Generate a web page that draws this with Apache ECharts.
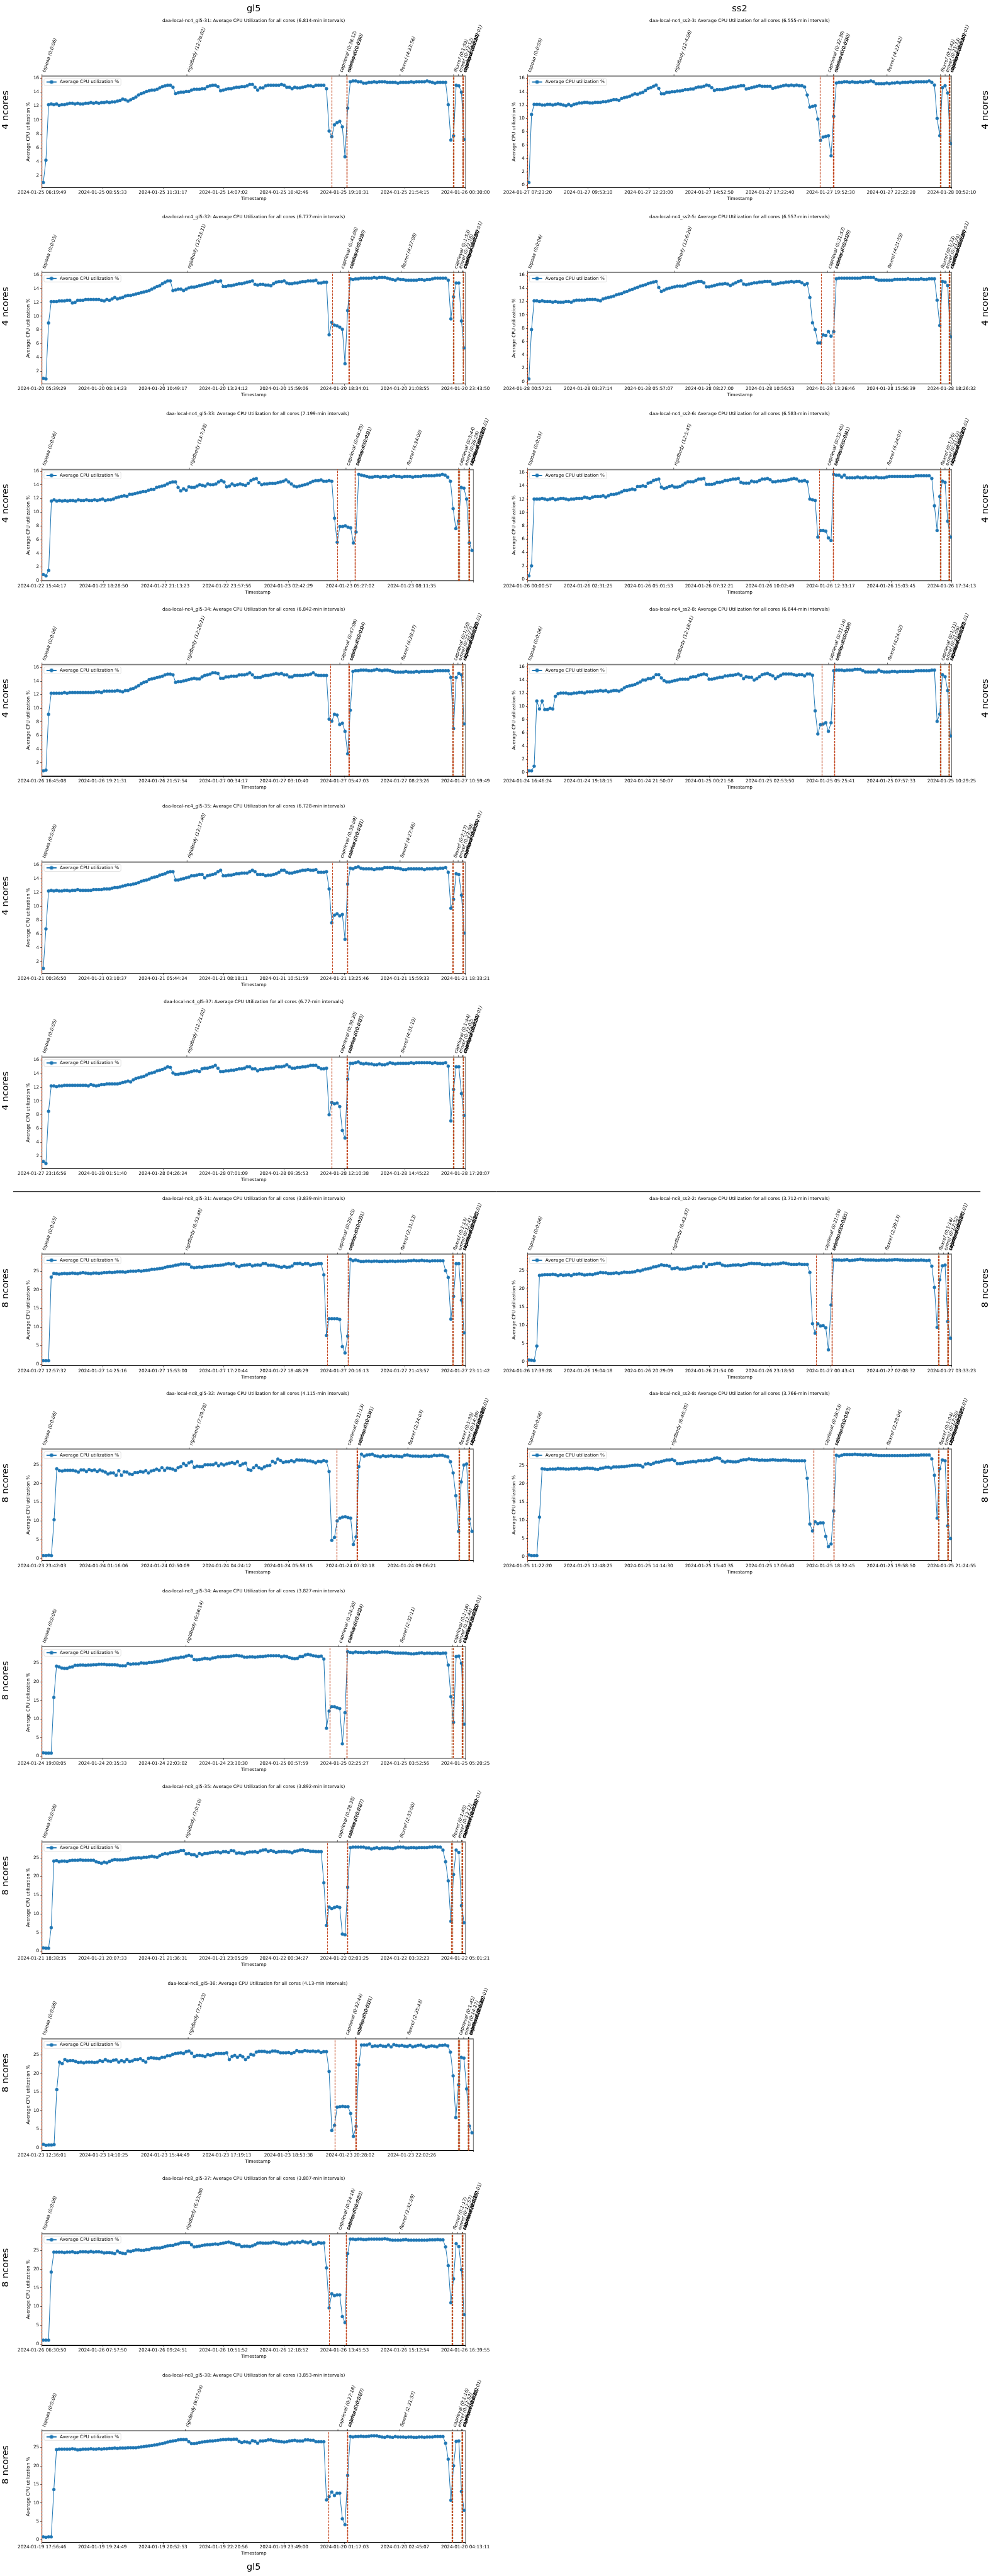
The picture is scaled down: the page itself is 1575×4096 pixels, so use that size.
<!DOCTYPE html>
<html><head><meta charset="utf-8">
<script src="https://cdn.jsdelivr.net/npm/echarts@6/dist/echarts.min.js"></script>
<style>html,body{margin:0;padding:0;background:#fff}#c{width:1575px;height:4096px}</style>
</head><body><div id="c"></div>
<script>
// ---------------- DATA ----------------
const PHASE_NAMES = ['topoaa','rigidbody','caprieval','seletop','caprieval','flexref','caprieval','emref','caprieval','clustfcc','seletopclusts','caprieval'];

// gl5, 4 ncores
const ticks_nc4_gl5_31 = ['2024-01-25 06:19:49','2024-01-25 08:55:33','2024-01-25 11:31:17','2024-01-25 14:07:02','2024-01-25 16:42:46','2024-01-25 19:18:31','2024-01-25 21:54:15','2024-01-26 00:30:00'];
const dur_nc4_gl5_31 = ['0:0:06','12:26:02','0:38:12','0:0:01','0:0:30','4:33:56','0:1:59','0:22:12','0:0:20','0:0:02','0:0:01','0:0:32'];
const cpu_nc4_gl5_31 = [
1.0,4.2,12.2,12.3,12.2,12.3,12.1,12.2,12.2,12.3,
12.4,12.4,12.3,12.4,12.3,12.3,12.4,12.4,12.5,12.4,
12.5,12.4,12.5,12.5,12.6,12.5,12.6,12.6,12.7,12.8,
13.0,12.9,12.7,12.9,13.1,13.3,13.6,13.8,13.9,14.1,
14.2,14.3,14.3,14.4,14.6,14.8,14.9,15.0,15.0,14.7,
13.8,13.9,14.0,14.0,14.1,14.1,14.3,14.4,14.4,14.4,
14.5,14.5,14.8,14.9,15.0,15.0,14.8,14.2,14.3,14.4,
14.5,14.5,14.6,14.7,14.7,14.8,14.8,14.9,15.1,15.1,
14.7,14.3,14.6,14.6,14.9,15.0,15.0,15.0,15.0,15.0,
15.1,15.0,14.7,14.7,14.5,14.7,14.6,14.6,14.7,14.8,
14.9,14.9,14.8,15.0,15.0,15.0,15.0,14.5,8.4,7.6,
9.3,9.6,9.8,9.0,4.7,11.7,15.5,15.6,15.6,15.5,
15.5,15.3,15.3,15.4,15.4,15.5,15.4,15.5,15.5,15.5,
15.4,15.4,15.4,15.4,15.3,15.4,15.4,15.4,15.4,15.5,
15.4,15.5,15.5,15.5,15.5,15.6,15.5,15.4,15.3,15.4,
15.4,15.4,15.4,12.2,7.1,7.7,15.0,14.9,14.0,7.2];

const ticks_nc4_gl5_32 = ['2024-01-20 05:39:29','2024-01-20 08:14:23','2024-01-20 10:49:17','2024-01-20 13:24:12','2024-01-20 15:59:06','2024-01-20 18:34:01','2024-01-20 21:08:55','2024-01-20 23:43:50'];
const dur_nc4_gl5_32 = ['0:0:05','12:23:31','0:42:06','0:0:01','0:0:30','4:27:08','0:1:53','0:22:16','0:0:20','0:0:02','0:0:01','0:0:31'];
const cpu_nc4_gl5_32 = [
1.0,0.9,9.0,12.1,12.1,12.1,12.2,12.2,12.2,12.3,
12.3,11.9,12.0,12.3,12.3,12.3,12.4,12.4,12.4,12.4,
12.4,12.4,12.3,12.2,12.4,12.3,12.5,12.7,12.5,12.6,
12.7,12.9,13.0,13.0,13.1,13.2,13.3,13.4,13.5,13.6,
13.7,13.9,14.1,14.3,14.4,14.7,14.9,15.1,15.1,13.7,
13.8,13.9,13.9,13.7,13.9,14.1,14.2,14.2,14.3,14.4,
14.5,14.6,14.7,14.8,14.9,15.1,15.0,15.1,14.3,14.3,
14.4,14.4,14.5,14.6,14.7,14.7,14.8,14.9,15.0,15.1,
14.6,14.5,14.6,14.6,14.5,14.5,14.4,14.7,14.9,15.0,
15.0,15.1,14.8,14.7,14.7,14.8,14.8,14.9,15.0,15.0,
15.1,15.1,15.1,15.2,14.8,14.8,14.9,14.9,7.3,9.1,
8.7,8.6,8.4,8.1,3.1,10.8,15.4,15.3,15.4,15.4,
15.5,15.5,15.5,15.5,15.5,15.6,15.5,15.6,15.6,15.6,
15.5,15.4,15.3,15.2,15.4,15.3,15.3,15.2,15.2,15.2,
15.2,15.2,15.3,15.3,15.2,15.3,15.3,15.4,15.5,15.5,
15.5,15.5,15.5,15.2,9.6,12.8,14.8,14.8,9.3,5.4];

const ticks_nc4_gl5_33 = ['2024-01-22 15:44:17','2024-01-22 18:28:50','2024-01-22 21:13:23','2024-01-22 23:57:56','2024-01-23 02:42:29','2024-01-23 05:27:02','2024-01-23 08:11:35','2024-01-23 10:56:08'];
const dur_nc4_gl5_33 = ['0:0:06','13:7:28','0:48:29','0:0:01','0:0:21','4:34:00','0:3:44','0:26:26','0:0:20','0:0:02','0:0:01','0:1:12'];
const cpu_nc4_gl5_33 = [
0.9,0.7,1.5,11.6,11.8,11.6,11.7,11.6,11.7,11.6,
11.7,11.7,11.6,11.8,11.7,11.7,11.8,11.7,11.7,11.8,
11.7,11.8,11.9,11.7,11.8,11.8,11.9,12.1,12.2,12.3,
12.4,12.3,12.6,12.6,12.7,12.8,12.9,13.0,13.0,13.2,
13.3,13.3,13.6,13.7,13.8,13.9,14.1,14.3,14.4,14.4,
13.6,13.1,13.4,13.2,13.7,13.6,13.6,13.8,14.0,13.9,
13.8,14.1,14.0,14.0,14.1,14.4,14.6,14.4,13.7,13.8,
14.1,13.9,14.0,14.1,14.0,13.9,14.2,14.6,14.8,14.9,
14.3,14.0,14.1,14.1,14.2,14.2,14.2,14.3,14.4,14.5,
14.7,14.4,14.1,13.8,13.7,13.8,13.9,14.0,14.1,14.3,
14.5,14.6,14.6,14.7,14.5,14.5,14.6,14.5,9.1,5.6,
7.9,7.9,8.0,7.8,7.7,5.5,7.1,15.5,15.4,15.3,
15.2,15.1,15.1,15.2,15.2,15.1,15.2,15.2,15.1,15.2,
15.3,15.2,15.2,15.1,15.2,15.2,15.2,15.1,15.2,15.2,
15.2,15.3,15.3,15.3,15.3,15.3,15.4,15.4,15.5,15.4,
15.1,14.5,10.5,7.6,8.7,13.6,13.5,11.9,5.5,4.4];

const ticks_nc4_gl5_34 = ['2024-01-26 16:45:08','2024-01-26 19:21:31','2024-01-26 21:57:54','2024-01-27 00:34:17','2024-01-27 03:10:40','2024-01-27 05:47:03','2024-01-27 08:23:26','2024-01-27 10:59:49'];
const dur_nc4_gl5_34 = ['0:0:06','12:26:21','0:47:08','0:0:01','0:0:04','4:28:37','0:1:50','0:22:27','0:0:20','0:0:02','0:0:01','0:0:31'];
const cpu_nc4_gl5_34 = [
0.8,0.9,9.1,12.2,12.2,12.2,12.2,12.2,12.3,12.2,
12.3,12.3,12.3,12.3,12.3,12.3,12.3,12.3,12.3,12.3,
12.4,12.4,12.3,12.5,12.5,12.5,12.5,12.5,12.6,12.5,
12.4,12.6,12.6,12.8,12.9,13.1,13.3,13.6,13.8,13.9,
14.2,14.3,14.4,14.5,14.6,14.7,14.9,15.0,15.0,14.9,
13.8,13.9,13.9,14.0,14.1,14.2,14.3,14.4,14.3,14.3,
14.6,14.8,14.9,15.0,15.2,15.2,15.1,14.4,14.4,14.6,
14.6,14.7,14.7,14.7,14.9,14.9,14.9,15.0,15.2,14.9,
14.5,14.5,14.5,14.7,14.8,14.8,14.9,15.0,15.1,15.0,
15.1,14.9,14.9,14.6,14.6,14.8,14.8,14.8,14.8,14.9,
14.9,15.0,15.2,14.9,14.8,14.8,14.8,14.8,8.4,8.1,
9.1,9.0,7.6,7.8,6.6,3.3,9.7,15.4,15.5,15.5,
15.6,15.6,15.6,15.5,15.5,15.6,15.7,15.6,15.5,15.6,
15.6,15.5,15.4,15.3,15.3,15.3,15.3,15.4,15.3,15.3,
15.3,15.4,15.3,15.4,15.4,15.4,15.4,15.4,15.5,15.5,
15.5,15.5,15.5,15.5,14.5,7.0,14.5,15.1,14.9,7.7];

const ticks_nc4_gl5_35 = ['2024-01-21 00:36:50','2024-01-21 03:10:37','2024-01-21 05:44:24','2024-01-21 08:18:11','2024-01-21 10:51:59','2024-01-21 13:25:46','2024-01-21 15:59:33','2024-01-21 18:33:21'];
const dur_nc4_gl5_35 = ['0:0:06','12:17:40','0:38:09','0:0:01','0:0:31','4:27:46','0:2:17','0:22:59','0:0:20','0:0:02','0:0:01','0:0:39'];
const cpu_nc4_gl5_35 = [
1.0,6.7,12.2,12.3,12.2,12.3,12.2,12.2,12.3,12.3,
12.2,12.3,12.3,12.4,12.3,12.3,12.3,12.3,12.3,12.4,
12.4,12.4,12.4,12.5,12.5,12.5,12.6,12.7,12.7,12.8,
12.9,13.0,13.1,13.1,13.2,13.3,13.4,13.6,13.7,13.8,
13.9,14.1,14.2,14.3,14.5,14.6,14.7,14.9,15.0,15.0,
13.8,13.8,13.9,14.0,14.1,14.2,14.4,14.4,14.5,14.6,
14.6,14.1,14.4,14.5,14.6,14.7,15.0,15.2,14.4,14.4,
14.5,14.5,14.6,14.7,14.7,14.8,14.8,14.8,15.0,15.2,
15.0,14.6,14.6,14.6,14.4,14.5,14.5,14.6,14.7,14.9,
15.2,15.2,14.9,14.8,14.8,14.9,15.0,15.1,15.2,15.2,
15.3,15.2,15.2,15.3,14.9,14.9,14.9,15.0,12.5,7.6,
8.7,8.9,8.6,8.8,5.2,13.2,15.5,15.4,15.6,15.7,
15.5,15.4,15.4,15.4,15.4,15.3,15.4,15.4,15.4,15.6,
15.6,15.6,15.6,15.5,15.5,15.4,15.3,15.3,15.4,15.4,
15.4,15.4,15.4,15.4,15.3,15.4,15.4,15.4,15.5,15.4,
15.5,15.5,15.6,14.9,9.7,11.0,14.7,14.6,11.6,6.1];

const ticks_nc4_gl5_37 = ['2024-01-27 23:16:56','2024-01-28 01:51:40','2024-01-28 04:26:24','2024-01-28 07:01:09','2024-01-28 09:35:53','2024-01-28 12:10:38','2024-01-28 14:45:22','2024-01-28 17:20:07'];
const dur_nc4_gl5_37 = ['0:0:05','12:21:02','0:39:30','0:0:01','0:0:33','4:31:19','0:1:44','0:22:02','0:0:20','0:0:02','0:0:01','0:0:32'];
const cpu_nc4_gl5_37 = [
1.2,0.9,8.5,12.2,12.2,12.1,12.2,12.2,12.3,12.3,
12.3,12.3,12.3,12.3,12.3,12.3,12.3,12.2,12.4,12.3,
12.2,12.3,12.4,12.4,12.5,12.5,12.5,12.5,12.5,12.6,
12.7,12.8,12.9,12.8,13.1,13.3,13.4,13.5,13.6,13.8,
14.0,14.1,14.2,14.4,14.5,14.6,14.8,15.0,14.9,14.1,
13.9,13.9,14.0,14.0,14.1,14.2,14.3,14.4,14.4,14.3,
14.7,14.8,14.8,14.9,15.0,15.2,14.8,14.3,14.3,14.4,
14.4,14.5,14.5,14.6,14.7,14.7,14.8,15.0,15.0,14.7,
14.7,14.4,14.6,14.6,14.7,14.7,14.8,14.8,15.0,15.0,
15.0,15.1,15.3,15.0,14.8,14.8,14.9,14.9,15.0,15.0,
15.1,15.2,15.2,15.2,14.9,14.7,14.7,14.8,8.0,9.8,
9.6,9.7,9.2,5.7,4.6,13.2,15.5,15.5,15.6,15.7,
15.5,15.4,15.5,15.4,15.4,15.3,15.3,15.4,15.3,15.3,
15.4,15.6,15.5,15.4,15.5,15.5,15.5,15.5,15.5,15.6,
15.5,15.6,15.6,15.6,15.6,15.6,15.6,15.5,15.6,15.5,
15.5,15.5,15.6,15.1,7.1,11.7,15.0,15.0,11.1,7.9];

// gl5, 8 ncores
const ticks_nc8_gl5_31 = ['2024-01-27 12:57:32','2024-01-27 14:25:16','2024-01-27 15:53:00','2024-01-27 17:20:44','2024-01-27 18:48:29','2024-01-27 20:16:13','2024-01-27 21:43:57','2024-01-27 23:11:42'];
const dur_nc8_gl5_31 = ['0:0:05','6:53:48','0:29:45','0:0:01','0:0:31','2:31:13','0:1:13','0:12:41','0:0:15','0:0:02','0:0:01','0:0:26'];
const cpu_nc8_gl5_31 = [
0.9,0.9,0.9,23.4,24.4,24.3,24.2,24.3,24.4,24.3,
24.4,24.5,24.4,24.3,24.5,24.6,24.5,24.4,24.3,24.5,
24.5,24.4,24.5,24.6,24.6,24.7,24.6,24.7,24.8,24.8,
24.8,24.7,24.9,25.0,25.0,25.0,25.1,25.0,25.1,25.2,
25.3,25.5,25.5,25.6,25.7,25.8,26.0,26.2,26.3,26.4,
26.6,26.7,26.9,26.9,26.9,26.8,26.1,25.9,26.0,26.1,
26.0,26.2,26.3,26.3,26.4,26.5,26.5,26.6,26.7,26.9,
27.0,26.9,27.0,26.4,26.2,26.5,26.6,26.7,26.8,26.4,
26.6,26.7,26.6,27.0,27.0,26.6,26.6,26.6,26.4,26.2,
26.0,26.3,26.0,26.1,26.4,27.0,27.0,27.1,26.8,27.0,
27.0,26.6,26.8,26.9,27.0,27.0,24.0,7.7,12.2,12.2,
12.2,12.2,12.0,4.7,3.0,7.5,28.2,27.8,28.0,27.8,
27.6,27.6,27.7,27.7,27.6,27.7,27.7,27.6,27.6,27.7,
27.6,27.7,27.7,27.6,27.7,27.7,27.7,27.7,27.8,27.8,
27.9,27.8,27.8,27.9,27.8,27.8,27.7,27.8,27.8,27.8,
27.8,27.8,25.1,23.3,12.1,18.2,27.0,27.0,17.2,8.4];

const ticks_nc8_gl5_32 = ['2024-01-23 23:42:03','2024-01-24 01:16:06','2024-01-24 02:50:09','2024-01-24 04:24:12','2024-01-24 05:58:15','2024-01-24 07:32:18','2024-01-24 09:06:21','2024-01-24 10:40:24'];
const dur_nc8_gl5_32 = ['0:0:06','7:29:28','0:31:13','0:0:01','0:0:41','2:34:03','0:1:39','0:14:39','0:0:15','0:0:02','0:0:01','0:0:49'];
const cpu_nc8_gl5_32 = [
0.7,0.7,0.8,0.7,10.3,23.9,23.4,23.3,23.5,23.5,
23.5,23.5,23.3,23.0,23.6,23.6,23.2,23.7,23.4,23.6,
23.2,23.6,23.3,23.0,22.5,22.8,22.8,22.2,23.4,22.2,
23.1,23.0,22.5,22.4,22.9,22.9,23.2,23.0,23.4,22.8,
23.3,23.5,23.8,23.5,24.2,23.5,24.1,24.0,23.8,23.5,
24.2,24.5,25.3,24.8,25.5,25.8,24.3,24.6,24.5,24.5,
25.0,25.0,25.0,25.0,25.4,24.7,25.2,24.9,25.2,25.4,
25.6,25.3,25.8,24.8,25.2,25.4,23.7,23.5,24.2,24.8,
24.2,23.9,24.4,24.7,24.8,25.9,25.5,26.5,26.1,25.6,
25.8,25.8,26.1,25.8,26.3,26.2,26.2,26.2,26.0,26.0,
25.8,25.5,25.9,25.8,26.1,25.9,23.2,4.8,5.6,10.0,
10.7,11.0,11.1,10.9,10.7,3.7,5.7,24.5,27.8,27.3,
27.6,27.7,27.8,27.4,27.3,27.1,27.4,27.2,27.3,27.4,
27.2,27.3,27.2,27.1,27.5,27.6,27.4,27.3,27.3,27.3,
27.2,27.3,27.3,27.2,27.3,27.5,27.4,27.5,27.5,27.3,
27.1,25.8,22.8,16.7,7.2,20.4,24.9,25.2,10.5,7.2];

const ticks_nc8_gl5_34 = ['2024-01-24 19:08:05','2024-01-24 20:35:33','2024-01-24 22:03:02','2024-01-24 23:30:30','2024-01-25 00:57:59','2024-01-25 02:25:27','2024-01-25 03:52:56','2024-01-25 05:20:25'];
const dur_nc8_gl5_34 = ['0:0:06','6:56:14','0:24:30','0:0:01','0:0:24','2:32:11','0:1:18','0:12:44','0:0:15','0:0:02','0:0:01','0:0:30'];
const cpu_nc8_gl5_34 = [
0.9,0.8,0.8,0.8,15.8,24.2,24.0,23.7,23.6,23.6,
23.9,24.0,24.4,24.4,24.5,24.5,24.4,24.5,24.5,24.6,
24.6,24.7,24.7,24.7,24.6,24.6,24.6,24.6,24.5,24.3,
24.3,24.3,24.9,24.7,24.8,24.8,24.8,25.1,25.0,25.0,
25.2,25.2,25.3,25.4,25.5,25.6,25.8,25.9,26.1,26.3,
26.4,26.4,26.6,26.6,26.9,27.1,26.9,26.0,25.9,26.0,
26.1,26.3,26.2,26.1,26.4,26.5,26.7,26.7,26.8,26.8,
26.8,26.9,27.0,27.1,27.0,26.9,26.6,26.6,26.7,26.7,
26.6,26.7,26.8,26.8,26.9,27.0,27.0,27.0,27.0,27.0,
26.7,26.9,26.8,26.5,26.3,26.2,26.3,26.8,26.8,27.2,
27.4,27.2,27.0,26.9,26.8,26.9,26.1,7.5,12.1,13.3,
13.3,13.0,12.8,3.3,11.7,28.1,27.9,27.8,28.0,27.9,
27.9,27.8,27.9,28.0,27.9,27.9,27.8,27.9,28.0,28.0,
28.0,27.9,27.8,27.7,27.7,27.7,27.7,27.7,27.6,27.5,
27.5,27.6,27.7,27.8,27.6,27.7,27.7,27.6,27.7,27.7,
27.6,27.7,27.7,24.5,16.0,9.1,26.8,26.9,25.0,8.6];

const ticks_nc8_gl5_35 = ['2024-01-21 18:38:35','2024-01-21 20:07:33','2024-01-21 21:36:31','2024-01-21 23:05:29','2024-01-22 00:34:27','2024-01-22 02:03:25','2024-01-22 03:32:23','2024-01-22 05:01:21'];
const dur_nc8_gl5_35 = ['0:0:06','7:0:10','0:28:38','0:0:01','0:0:27','2:33:00','0:1:40','0:13:12','0:0:15','0:0:02','0:0:01','0:0:38'];
const cpu_nc8_gl5_35 = [
0.9,0.8,0.8,6.3,24.1,24.2,23.9,24.1,24.1,24.0,
24.2,24.3,24.3,24.3,24.4,24.3,24.3,24.3,24.3,24.3,
23.9,23.7,23.5,23.8,23.6,24.0,24.3,24.5,24.4,24.4,
24.4,24.5,24.6,24.8,24.9,24.9,25.0,24.9,25.1,25.1,
25.2,25.4,25.2,25.1,25.5,25.9,26.1,26.0,26.3,26.4,
26.5,26.6,26.9,26.9,26.0,26.1,25.8,25.8,25.4,26.1,
25.8,26.1,26.1,26.3,26.4,26.5,26.5,26.3,26.6,26.6,
26.4,26.9,26.8,26.2,26.3,26.2,26.0,26.4,26.5,26.5,
26.6,26.4,26.8,27.0,27.1,26.7,26.9,26.7,26.4,26.6,
26.6,26.7,26.6,26.5,26.3,26.7,26.8,27.0,27.1,26.9,
26.9,26.7,26.7,26.6,26.6,26.6,18.3,6.9,11.8,11.4,
11.7,11.9,11.7,4.6,4.4,17.1,27.7,27.8,27.8,27.8,
27.8,27.8,27.6,27.6,27.3,27.5,27.7,27.4,27.6,27.6,
27.6,27.5,27.4,27.6,27.8,27.8,27.8,27.6,27.6,27.7,
27.7,27.6,27.7,27.7,27.7,27.7,27.8,27.8,27.9,27.8,
27.8,27.0,23.9,18.8,8.0,20.5,27.0,26.4,12.2,7.6];

const ticks_nc8_gl5_36 = ['2024-01-23 12:36:01','2024-01-23 14:10:25','2024-01-23 15:44:49','2024-01-23 17:19:13','2024-01-23 18:53:38','2024-01-23 20:28:02','2024-01-23 22:02:26','2024-01-23 23:36:50'];
const dur_nc8_gl5_36 = ['0:0:06','7:27:53','0:32:44','0:0:01','0:0:31','2:35:43','0:1:45','0:14:27','0:0:15','0:0:02','0:0:01','0:0:49'];
const cpu_nc8_gl5_36 = [
0.9,0.6,0.7,0.7,0.8,15.6,23.0,22.6,23.7,23.3,
23.4,23.4,23.2,22.9,23.0,22.8,23.0,23.0,23.0,22.9,
23.0,23.4,23.2,23.7,23.3,23.2,23.5,23.6,23.0,23.4,
23.1,23.7,23.2,23.3,23.7,23.7,23.9,23.4,23.0,24.0,
24.2,24.1,24.0,23.9,24.3,24.3,24.7,24.7,25.1,25.3,
25.4,25.5,25.3,25.8,26.0,25.4,24.5,24.8,24.8,24.7,
24.5,25.0,24.8,25.0,25.3,25.3,25.3,25.3,25.5,23.7,
24.5,24.8,24.3,24.8,24.4,23.7,24.3,25.1,24.9,25.7,
25.9,25.9,25.9,25.7,25.7,26.0,26.0,25.8,25.5,25.5,
25.5,25.6,25.3,25.6,26.1,25.8,25.8,26.1,26.0,25.9,
26.0,25.8,26.0,25.6,25.8,25.8,20.5,4.6,6.0,10.9,
11.0,11.1,11.0,11.0,9.2,3.0,5.7,22.3,27.6,27.6,
27.6,27.9,27.2,27.4,27.3,27.5,27.3,27.2,27.6,27.1,
27.7,27.5,27.4,27.5,27.3,27.2,27.5,27.1,27.3,27.5,
27.6,27.3,27.0,27.2,27.4,27.3,27.1,27.5,27.5,27.6,
27.4,25.7,19.3,8.1,16.9,24.3,24.1,15.8,5.8,4.0];

const ticks_nc8_gl5_37 = ['2024-01-26 06:30:50','2024-01-26 07:57:50','2024-01-26 09:24:51','2024-01-26 10:51:52','2024-01-26 12:18:52','2024-01-26 13:45:53','2024-01-26 15:12:54','2024-01-26 16:39:55'];
const dur_nc8_gl5_37 = ['0:0:06','6:53:09','0:24:18','0:0:01','0:0:13','2:32:09','0:1:17','0:12:57','0:0:15','0:0:02','0:0:01','0:0:27'];
const cpu_nc8_gl5_37 = [
1.0,1.0,1.0,19.2,24.5,24.5,24.5,24.5,24.4,24.5,
24.5,24.6,24.4,24.4,24.6,24.6,24.6,24.5,24.7,24.5,
24.6,24.6,24.5,24.3,24.4,24.4,24.3,24.1,24.8,24.4,
24.2,24.1,24.8,24.7,24.9,25.1,25.1,25.0,25.0,25.2,
25.2,25.5,25.6,25.6,25.6,25.8,26.0,26.2,26.3,26.3,
26.6,26.7,27.0,27.1,27.1,27.1,26.5,25.9,26.0,26.1,
26.3,26.4,26.5,26.5,26.6,26.7,26.6,26.8,26.9,27.1,
27.2,27.0,26.8,26.5,26.5,26.0,26.1,26.1,26.0,26.2,
26.5,26.9,27.0,26.9,26.9,26.9,27.0,27.2,27.1,26.9,
26.7,26.7,26.7,27.0,27.2,27.0,27.2,27.1,27.4,27.2,
27.0,27.3,26.6,26.7,27.1,26.9,27.0,20.3,9.6,13.4,
12.9,13.1,13.1,7.3,5.7,24.1,28.0,28.0,27.9,28.0,
28.0,27.9,27.9,28.0,28.0,28.0,28.0,28.0,28.0,28.1,
28.0,27.8,27.7,27.7,27.7,27.7,27.8,27.9,27.7,27.7,
27.7,27.7,27.7,27.7,27.7,27.7,27.8,27.8,27.8,27.9,
27.8,27.8,25.9,20.9,11.0,17.4,26.8,26.0,19.8,7.8];

const ticks_nc8_gl5_38 = ['2024-01-19 17:56:46','2024-01-19 19:24:49','2024-01-19 20:52:53','2024-01-19 22:20:56','2024-01-19 23:49:00','2024-01-20 01:17:03','2024-01-20 02:45:07','2024-01-20 04:13:11'];
const dur_nc8_gl5_38 = ['0:0:06','6:57:04','0:27:18','0:0:01','0:0:27','2:31:57','0:1:16','0:12:52','0:0:15','0:0:02','0:0:01','0:0:32'];
const cpu_nc8_gl5_38 = [
0.8,0.7,0.8,0.8,13.6,24.4,24.5,24.5,24.5,24.5,
24.5,24.6,24.5,24.3,24.4,24.5,24.5,24.5,24.6,24.5,
24.5,24.6,24.5,24.6,24.6,24.7,24.7,24.8,24.7,24.8,
24.8,24.8,24.9,24.9,24.9,24.9,25.0,25.1,25.2,25.3,
25.4,25.5,25.6,25.7,25.9,26.0,26.2,26.4,26.6,26.7,
26.8,27.0,27.1,27.1,27.1,26.5,26.0,26.0,26.1,26.3,
26.4,26.5,26.6,26.7,26.7,26.8,26.9,27.0,27.1,27.1,
27.2,27.1,27.2,27.2,26.6,26.3,26.5,26.4,26.2,26.8,
26.6,26.1,26.7,26.7,26.8,27.0,27.0,26.8,26.7,26.6,
26.5,26.4,26.5,26.7,26.8,26.9,26.7,26.7,26.7,27.0,
27.0,26.9,26.9,26.5,26.5,26.5,26.5,10.8,11.7,12.9,
12.0,12.6,12.6,5.7,4.1,17.4,27.9,27.8,27.9,27.9,
28.0,27.9,27.9,28.0,28.1,28.1,28.1,27.9,27.8,27.7,
27.9,27.8,27.7,27.9,27.8,27.8,27.8,27.7,27.8,27.8,
27.7,27.7,27.8,27.8,27.7,27.8,27.8,27.8,27.9,27.9,
27.9,27.9,26.1,21.8,10.7,20.0,26.6,26.7,13.1,8.0];

// ss2, 4 ncores
const ticks_nc4_ss2_3 = ['2024-01-27 07:23:20','2024-01-27 09:53:10','2024-01-27 12:23:00','2024-01-27 14:52:50','2024-01-27 17:22:40','2024-01-27 19:52:30','2024-01-27 22:22:20','2024-01-28 00:52:10'];
const dur_nc4_ss2_3 = ['0:0:05','12:4:06','0:32:39','0:0:01','0:0:40','4:22:42','0:1:42','0:21:33','0:0:20','0:0:02','0:0:01','0:0:30'];
const cpu_nc4_ss2_3 = [
0.4,10.6,12.1,12.1,12.1,12.0,12.0,12.1,12.1,12.0,
12.1,12.2,12.1,12.0,11.9,12.1,11.9,12.1,12.2,12.3,
12.3,12.4,12.4,12.3,12.3,12.4,12.4,12.4,12.5,12.5,
12.6,12.7,12.8,12.8,12.7,13.0,13.1,13.2,13.3,13.5,
13.7,13.6,13.8,13.9,14.2,14.5,14.6,14.8,15.0,14.5,
13.7,13.7,13.9,13.9,14.0,14.0,14.1,14.1,14.2,14.3,
14.3,14.4,14.4,14.6,14.7,14.7,14.8,15.0,14.9,14.6,
14.2,14.3,14.3,14.3,14.4,14.5,14.6,14.7,14.7,14.8,
14.9,14.9,14.4,14.5,14.6,14.7,14.8,14.9,14.8,14.8,
14.8,14.8,14.5,14.6,14.7,14.8,14.9,15.0,14.9,15.0,
14.9,15.0,14.9,14.9,14.7,13.5,11.7,11.8,11.9,9.9,
6.7,7.2,7.3,7.4,4.4,10.3,15.3,15.4,15.4,15.5,
15.5,15.4,15.5,15.4,15.4,15.5,15.4,15.5,15.5,15.6,
15.5,15.2,15.2,15.2,15.2,15.3,15.2,15.3,15.3,15.4,
15.3,15.4,15.4,15.4,15.5,15.4,15.5,15.5,15.5,15.5,
15.5,15.6,15.4,15.0,10.0,7.4,14.6,14.9,13.8,6.2];

const ticks_nc4_ss2_5 = ['2024-01-28 00:57:21','2024-01-28 03:27:14','2024-01-28 05:57:07','2024-01-28 08:27:00','2024-01-28 10:56:53','2024-01-28 13:26:46','2024-01-28 15:56:39','2024-01-28 18:26:32'];
const dur_nc4_ss2_5 = ['0:0:06','12:6:20','0:31:57','0:0:01','0:0:29','4:21:59','0:1:33','0:21:24','0:0:20','0:0:02','0:0:01','0:0:29'];
const cpu_nc4_ss2_5 = [
0.4,7.8,12.1,12.1,12.0,12.1,12.0,12.0,12.0,11.9,
12.0,11.9,11.9,11.9,12.0,12.0,11.9,12.1,12.2,12.2,
12.2,12.2,12.3,12.3,12.3,12.3,12.2,12.1,12.4,12.5,
12.6,12.7,12.8,13.0,13.1,13.2,13.4,13.5,13.7,13.8,
14.0,14.1,14.3,14.4,14.5,14.7,14.8,14.9,15.0,14.1,
13.5,13.7,13.9,14.0,14.1,14.2,14.3,14.3,14.3,14.4,
14.6,14.7,14.8,14.9,15.0,15.0,14.8,14.2,14.2,14.3,
14.4,14.5,14.6,14.6,14.7,14.6,14.4,14.6,14.8,15.0,
15.1,14.6,14.5,14.6,14.7,14.8,14.8,14.9,14.9,15.0,
15.0,15.0,14.6,14.6,14.7,14.8,14.8,14.9,14.9,15.0,
14.9,15.0,15.0,14.8,14.5,14.7,12.6,8.8,7.8,5.8,
5.8,7.0,6.9,7.5,6.8,7.5,15.4,15.5,15.5,15.5,
15.5,15.5,15.5,15.5,15.5,15.5,15.6,15.6,15.6,15.6,
15.6,15.3,15.2,15.2,15.2,15.2,15.2,15.2,15.3,15.3,
15.3,15.3,15.3,15.4,15.3,15.3,15.3,15.3,15.4,15.3,
15.3,15.4,15.4,15.4,12.2,8.4,15.0,14.9,14.4,6.7];

const ticks_nc4_ss2_6 = ['2024-01-26 00:00:57','2024-01-26 02:31:25','2024-01-26 05:01:53','2024-01-26 07:32:21','2024-01-26 10:02:49','2024-01-26 12:33:17','2024-01-26 15:03:45','2024-01-26 17:34:13'];
const dur_nc4_ss2_6 = ['0:0:05','12:5:45','0:33:40','0:0:01','0:0:41','4:24:07','0:1:36','0:21:32','0:0:20','0:0:02','0:0:01','0:0:33'];
const cpu_nc4_ss2_6 = [
0.5,2.0,12.0,12.0,12.0,12.1,12.0,11.9,12.0,12.1,
11.9,12.0,12.1,12.1,12.0,11.9,12.0,12.0,12.1,12.1,
12.1,12.3,12.2,12.1,12.3,12.4,12.4,12.4,12.5,12.3,
12.5,12.7,12.7,12.8,12.9,13.1,13.3,13.3,13.4,13.5,
13.4,13.9,13.9,14.0,13.9,14.4,14.5,14.8,14.9,15.0,
13.8,13.6,13.7,13.9,14.0,13.8,13.8,13.9,14.1,14.4,
14.6,14.6,14.6,14.8,15.0,15.0,15.1,14.2,14.2,14.2,
14.3,14.5,14.5,14.6,14.8,14.8,14.9,15.0,15.0,15.1,
14.5,14.4,14.4,14.4,14.7,14.6,14.6,14.8,15.0,15.0,
15.1,14.9,14.6,14.6,14.7,14.7,14.8,14.8,14.9,15.0,
15.1,15.0,14.7,14.7,14.8,14.6,12.0,11.9,11.8,6.3,
7.3,7.3,7.2,6.2,5.8,15.7,15.6,15.6,15.3,15.6,
15.2,15.2,15.2,15.2,15.3,15.2,15.2,15.3,15.2,15.2,
15.2,15.3,15.2,15.2,15.2,15.3,15.4,15.4,15.4,15.4,
15.4,15.4,15.4,15.4,15.4,15.4,15.5,15.5,15.5,15.5,
15.5,15.5,15.1,11.0,7.3,12.4,14.7,14.5,8.7,6.3];

const ticks_nc4_ss2_8 = ['2024-01-24 16:46:24','2024-01-24 19:18:15','2024-01-24 21:50:07','2024-01-25 00:21:58','2024-01-25 02:53:50','2024-01-25 05:25:41','2024-01-25 07:57:33','2024-01-25 10:29:25'];
const dur_nc4_ss2_8 = ['0:0:06','12:18:41','0:31:14','0:0:01','0:0:08','4:24:02','0:1:31','0:21:06','0:0:20','0:0:02','0:0:01','0:0:30'];
const cpu_nc4_ss2_8 = [
0.2,0.2,0.9,10.8,9.6,10.8,9.5,9.5,9.7,9.6,
11.5,11.9,12.0,12.0,12.0,11.9,11.9,12.0,12.0,12.1,
12.1,12.0,12.2,12.2,12.2,12.3,12.3,12.4,12.3,12.4,
12.2,12.3,12.4,12.4,12.3,12.5,12.8,13.0,13.1,13.2,
13.3,13.5,13.7,14.0,14.0,14.2,14.2,14.4,14.8,14.8,
14.3,13.9,13.7,13.7,13.8,13.9,14.0,14.1,14.1,14.1,
14.1,14.4,14.5,14.5,14.7,14.8,14.9,14.8,14.1,14.1,
14.2,14.3,14.4,14.4,14.6,14.6,14.7,14.7,14.8,14.9,
14.7,14.2,14.5,14.4,14.4,14.0,14.2,14.5,14.8,14.9,
15.0,14.8,14.6,14.2,14.5,14.7,14.9,14.9,14.9,14.9,
14.8,14.7,14.8,14.8,14.6,14.9,14.9,14.7,9.3,5.8,
7.2,7.3,7.5,6.2,7.5,15.4,15.5,15.5,15.5,15.4,
15.5,15.5,15.5,15.6,15.6,15.6,15.4,15.2,15.2,15.2,
15.2,15.2,15.5,15.3,15.2,15.2,15.2,15.3,15.3,15.2,
15.3,15.3,15.3,15.3,15.3,15.3,15.4,15.4,15.4,15.4,
15.4,15.4,15.5,15.5,7.7,8.8,14.8,14.5,12.4,5.5];

// ss2, 8 ncores
const ticks_nc8_ss2_2 = ['2024-01-26 17:39:28','2024-01-26 19:04:18','2024-01-26 20:29:09','2024-01-26 21:54:00','2024-01-26 23:18:50','2024-01-27 00:43:41','2024-01-27 02:08:32','2024-01-27 03:33:23'];
const dur_nc8_ss2_2 = ['0:0:06','6:43:37','0:21:56','0:0:01','0:0:05','2:29:13','0:1:18','0:12:32','0:0:15','0:0:02','0:0:01','0:0:34'];
const cpu_nc8_ss2_2 = [
0.5,0.4,0.3,4.3,23.6,23.7,23.8,23.8,23.8,23.9,
23.8,23.5,23.8,23.6,23.7,23.8,23.5,23.9,23.9,24.0,
23.9,23.7,23.8,23.9,23.8,24.0,24.2,24.4,24.3,24.3,
24.1,24.1,24.2,24.3,24.1,24.3,24.5,24.4,24.4,24.5,
24.6,24.9,24.8,25.1,25.3,25.4,25.6,25.9,26.0,26.2,
26.5,26.3,26.3,26.1,25.4,25.5,25.7,25.3,25.3,25.3,
25.5,25.6,25.9,26.0,25.9,26.0,26.8,26.0,26.6,26.6,
26.7,26.9,26.9,26.4,26.2,26.2,26.3,26.4,26.4,26.5,
26.3,26.5,26.6,26.8,26.9,26.8,26.8,26.8,26.6,26.5,
26.6,26.5,26.7,26.7,26.7,26.9,27.0,26.9,26.7,26.6,
26.6,26.6,26.7,26.6,26.6,26.6,24.4,10.4,7.8,10.4,
9.8,9.9,9.3,3.3,15.5,27.8,27.8,27.8,27.7,27.8,
27.9,27.6,27.7,27.8,27.9,28.0,27.9,27.8,27.8,27.8,
27.8,27.7,27.7,27.8,27.8,27.7,27.8,27.8,27.9,27.9,
27.8,27.8,27.7,27.7,27.7,27.8,27.7,27.7,27.8,27.7,
27.6,27.7,26.1,20.3,9.4,22.4,26.2,26.4,11.0,6.4];

const ticks_nc8_ss2_8 = ['2024-01-25 11:22:20','2024-01-25 12:48:25','2024-01-25 14:14:30','2024-01-25 15:40:35','2024-01-25 17:06:40','2024-01-25 18:32:45','2024-01-25 19:58:50','2024-01-25 21:24:55'];
const dur_nc8_ss2_8 = ['0:0:06','6:46:35','0:28:53','0:0:01','0:0:13','2:28:04','0:1:04','0:12:20','0:0:15','0:0:02','0:0:01','0:0:35'];
const cpu_nc8_ss2_8 = [
0.4,0.2,0.2,0.2,10.8,24.1,24.0,23.9,24.0,24.0,
24.0,24.2,24.1,24.1,24.0,24.0,24.1,24.1,24.2,24.0,
24.1,24.2,24.3,24.2,24.2,24.0,23.9,24.2,24.3,24.5,
24.5,24.3,24.6,24.6,24.6,24.7,24.7,24.8,24.9,25.0,
25.1,25.1,25.0,24.6,25.4,25.5,25.3,25.6,25.9,25.9,
26.1,26.3,26.5,26.5,26.7,26.3,25.5,25.5,25.6,25.8,
25.9,26.0,26.1,26.0,26.3,26.3,26.3,26.5,26.4,26.7,
27.0,27.1,26.9,26.2,25.9,26.2,26.1,26.0,26.0,26.1,
26.4,26.6,26.6,26.8,26.7,26.6,26.6,26.4,26.5,26.4,
26.4,26.5,26.6,26.5,26.4,26.4,26.5,26.5,26.4,26.3,
26.3,26.3,26.3,26.3,26.3,21.5,8.9,7.0,9.5,9.0,
9.2,9.2,5.5,2.7,3.4,12.5,27.8,27.6,27.8,28.0,
28.0,28.0,28.0,28.1,28.0,28.0,27.9,28.0,27.9,28.0,
27.8,27.8,27.7,27.7,27.7,27.7,27.7,27.7,27.7,27.7,
27.7,27.7,27.7,27.7,27.8,27.8,27.8,27.8,27.9,27.9,
27.9,27.9,26.8,22.3,10.5,24.1,26.5,26.3,8.4,4.9];

// ---------------- LAYOUT ----------------
const S = 0.525;                 // reference px -> window px
const FS = 13.9 * S;             // 10pt text
const FONT = 'DejaVu Sans';
const NAME = 'Average CPU utilization %';
const ROW_TOP = [230, 825, 1421.5, 2012, 2610, 3201, 3798.5, 4389, 4987, 5578, 6175, 6765, 7362];
const PLOT_H = 338;
const COLS = [{l:127, r:1409, rWide:1433, lab:17}, {l:1597, r:2881, rWide:2881, lab:2984}];
const RED = '#c44a24', GREEN = 'rgba(95,160,70,0.85)';

const panels = [
 {col:0,row:0, id:'nc4_gl5-31', iv:'6.814', nc:4, ticks:ticks_nc4_gl5_31, cpu:cpu_nc4_gl5_31, dur:dur_nc4_gl5_31, mid:'flexref'},
 {col:0,row:1, id:'nc4_gl5-32', iv:'6.777', nc:4, ticks:ticks_nc4_gl5_32, cpu:cpu_nc4_gl5_32, dur:dur_nc4_gl5_32, mid:'caprieval'},
 {col:0,row:2, id:'nc4_gl5-33', iv:'7.199', nc:4, ticks:ticks_nc4_gl5_33, cpu:cpu_nc4_gl5_33, dur:dur_nc4_gl5_33, mid:'caprieval', hideLast:true},
 {col:0,row:3, id:'nc4_gl5-34', iv:'6.842', nc:4, ticks:ticks_nc4_gl5_34, cpu:cpu_nc4_gl5_34, dur:dur_nc4_gl5_34, mid:'caprieval'},
 {col:0,row:4, id:'nc4_gl5-35', iv:'6.728', nc:4, ticks:ticks_nc4_gl5_35, cpu:cpu_nc4_gl5_35, dur:dur_nc4_gl5_35, mid:'flexref'},
 {col:0,row:5, id:'nc4_gl5-37', iv:'6.77',  nc:4, ticks:ticks_nc4_gl5_37, cpu:cpu_nc4_gl5_37, dur:dur_nc4_gl5_37, mid:'caprieval'},
 {col:0,row:6, id:'nc8_gl5-31', iv:'3.839', nc:8, ticks:ticks_nc8_gl5_31, cpu:cpu_nc8_gl5_31, dur:dur_nc8_gl5_31, mid:'flexref'},
 {col:0,row:7, id:'nc8_gl5-32', iv:'4.115', nc:8, ticks:ticks_nc8_gl5_32, cpu:cpu_nc8_gl5_32, dur:dur_nc8_gl5_32, mid:'flexref', hideLast:true},
 {col:0,row:8, id:'nc8_gl5-34', iv:'3.827', nc:8, ticks:ticks_nc8_gl5_34, cpu:cpu_nc8_gl5_34, dur:dur_nc8_gl5_34, mid:'caprieval'},
 {col:0,row:9, id:'nc8_gl5-35', iv:'3.892', nc:8, ticks:ticks_nc8_gl5_35, cpu:cpu_nc8_gl5_35, dur:dur_nc8_gl5_35, mid:'flexref'},
 {col:0,row:10,id:'nc8_gl5-36', iv:'4.13',  nc:8, ticks:ticks_nc8_gl5_36, cpu:cpu_nc8_gl5_36, dur:dur_nc8_gl5_36, mid:'caprieval', hideLast:true},
 {col:0,row:11,id:'nc8_gl5-37', iv:'3.807', nc:8, ticks:ticks_nc8_gl5_37, cpu:cpu_nc8_gl5_37, dur:dur_nc8_gl5_37, mid:'flexref'},
 {col:0,row:12,id:'nc8_gl5-38', iv:'3.853', nc:8, ticks:ticks_nc8_gl5_38, cpu:cpu_nc8_gl5_38, dur:dur_nc8_gl5_38, mid:'caprieval'},
 {col:1,row:0, id:'nc4_ss2-3',  iv:'6.555', nc:4, ticks:ticks_nc4_ss2_3, cpu:cpu_nc4_ss2_3, dur:dur_nc4_ss2_3, mid:'flexref'},
 {col:1,row:1, id:'nc4_ss2-5',  iv:'6.557', nc:4, ticks:ticks_nc4_ss2_5, cpu:cpu_nc4_ss2_5, dur:dur_nc4_ss2_5, mid:'flexref'},
 {col:1,row:2, id:'nc4_ss2-6',  iv:'6.583', nc:4, ticks:ticks_nc4_ss2_6, cpu:cpu_nc4_ss2_6, dur:dur_nc4_ss2_6, mid:'flexref'},
 {col:1,row:3, id:'nc4_ss2-8',  iv:'6.644', nc:4, ticks:ticks_nc4_ss2_8, cpu:cpu_nc4_ss2_8, dur:dur_nc4_ss2_8, mid:'caprieval'},
 {col:1,row:6, id:'nc8_ss2-2',  iv:'3.712', nc:8, ticks:ticks_nc8_ss2_2, cpu:cpu_nc8_ss2_2, dur:dur_nc8_ss2_2, mid:'flexref'},
 {col:1,row:7, id:'nc8_ss2-8',  iv:'3.766', nc:8, ticks:ticks_nc8_ss2_8, cpu:cpu_nc8_ss2_8, dur:dur_nc8_ss2_8, mid:'flexref'}
];

function hms(s){ const p = s.split(':').map(Number); return p[0]*3600 + p[1]*60 + p[2]; }
function tsec(s){ return Date.parse(s.replace(' ', 'T') + 'Z') / 1000; }

const grids = [], xAxes = [], yAxes = [], series = [], legends = [], gfx = [];
const txt = (extra) => Object.assign({fill:'#000', fontFamily:FONT}, extra);

panels.forEach((p, i) => {
  const c = COLS[p.col];
  const L = c.l, R = p.hideLast ? c.rWide : c.r, T = ROW_TOP[p.row];
  grids.push({left:L*S, top:T*S, width:(R-L)*S, height:PLOT_H*S, show:true, borderColor:'#000', borderWidth:0.6, backgroundColor:'rgba(0,0,0,0)'});

  const t0 = tsec(p.ticks[0]), t1 = tsec(p.ticks[7]);
  const step = (t1 - t0) / 7;
  const n = p.cpu.length;
  const data = p.cpu.map((v, k) => [(k + 0.5) * 7 / n, v]);
  const mn = Math.min(...p.cpu), mx = Math.max(...p.cpu), rg = mx - mn;
  const ymin = mn - 0.05*rg, ymax = mx + 0.05*rg;
  const yiv = p.nc === 4 ? 2 : 5;
  const labs = p.ticks.slice(0, p.hideLast ? 7 : 8);

  // phases: midpoints (top ticks), starts / ends (dashed lines)
  const names = PHASE_NAMES.slice(); names[6] = p.mid;
  let cum = 0; const mids = [], starts = [], ends = [], plabels = [];
  p.dur.forEach((d, k) => {
    const s = hms(d);
    starts.push(cum / step); mids.push((cum + s/2) / step);
    cum += s; ends.push(cum / step);
    plabels.push(names[k] + ' (' + d + ')');
  });
  const mlData = [];
  for (let k = 6; k < starts.length; k++) mlData.push({xAxis: starts[k], lineStyle:{color:GREEN, type:[3.6,1.6], width:1.2}});
  ends.forEach(v => mlData.push({xAxis: v, lineStyle:{color:RED, type:[3.6,1.6], width:1.2}}));

  xAxes.push({gridIndex:i, type:'value', position:'bottom', min:0, max:7, interval:1,
    axisLine:{show:true, onZero:false, lineStyle:{color:'#000', width:1.1}},
    axisTick:{show:true, length:2.6, lineStyle:{color:'#000', width:0.6}},
    axisLabel:{fontSize:FS, color:'#000', fontFamily:FONT, margin:4.5, formatter: v => { const k = Math.round(v); return labs[k] !== undefined ? labs[k] : ''; }},
    splitLine:{show:false}, name:'Timestamp', nameLocation:'middle', nameGap:14.5,
    nameTextStyle:{fontSize:FS, color:'#000', fontFamily:FONT}});
  xAxes.push({gridIndex:i, type:'value', position:'top', min:0, max:7,
    axisLine:{show:true, onZero:false, lineStyle:{color:'#808080', width:1.5}},
    axisTick:{show:false}, axisLabel:{show:false}, splitLine:{show:false}});
  yAxes.push({gridIndex:i, type:'value', min:ymin, max:ymax, minInterval:yiv, maxInterval:yiv, splitNumber:8,
    axisLine:{show:true, onZero:false, lineStyle:{color:'#000', width:0.6}},
    axisTick:{show:true, length:2.6, lineStyle:{color:'#000', width:0.6}},
    axisLabel:{fontSize:FS, color:'#000', fontFamily:FONT, margin:4.5, showMinLabel:false, showMaxLabel:false},
    splitLine:{show:false}, name:NAME, nameLocation:'middle', nameGap:18,
    nameTextStyle:{fontSize:FS, color:'#000', fontFamily:FONT}});

  series.push({type:'line', name:NAME, xAxisIndex:2*i, yAxisIndex:i, data:data,
    symbol:'circle', symbolSize:5, showSymbol:true,
    lineStyle:{color:'#1f77b4', width:1},
    itemStyle:{color:'#1f77b4', borderColor:'rgba(31,119,180,0.45)', borderWidth:0.8},
    emphasis:{disabled:true}, silent:true, animation:false, z:3,
    markLine:{silent:true, symbol:['none','none'], label:{show:false}, animation:false, emphasis:{disabled:true}, data:mlData}});

  series.push({type:'custom', xAxisIndex:2*i, yAxisIndex:i, silent:true, animation:false, clip:false, z:4,
    data: mids.map((m, k) => [m, k]),
    renderItem: (params, api) => {
      const px = api.coord([api.value(0), ymin])[0];
      const top = params.coordSys.y;
      return {type:'group', children:[
        {type:'line', shape:{x1:px, y1:top, x2:px, y2:top-2.6}, style:{stroke:'#000', lineWidth:0.6}},
        {type:'text', x:px + 0.9*FS, y:top - 5, rotation:71*Math.PI/180,
         style:{text:plabels[api.value(1)], fill:'#000', fontSize:FS, fontFamily:FONT, fontStyle:'italic', align:'left', verticalAlign:'bottom'}}
      ]};
    }});

  legends.push({data:[NAME], left:L*S + 3.2, top:T*S + 4.2, itemWidth:16, itemHeight:6, itemGap:4,
    padding:[2,3], borderColor:'#cccccc', borderWidth:0.6, borderRadius:2, backgroundColor:'rgba(255,255,255,0.85)',
    selectedMode:false, textStyle:{fontSize:FS, color:'#000', fontFamily:FONT}});

  gfx.push({type:'text', x:(L+R)/2*S, y:(T-167)*S, silent:true,
    style:txt({text:'daa-local-' + p.id + ': Average CPU Utilization for all cores (' + p.iv + '-min intervals)', fontSize:FS, align:'center', verticalAlign:'middle'})});
});

// row labels
const rowLabels = [];
for (let r = 0; r < 13; r++) rowLabels.push({col:0, row:r, text: r < 6 ? '4 ncores' : '8 ncores'});
[0,1,2,3].forEach(r => rowLabels.push({col:1, row:r, text:'4 ncores'}));
[6,7].forEach(r => rowLabels.push({col:1, row:r, text:'8 ncores'}));
rowLabels.forEach(o => gfx.push({type:'text', x:COLS[o.col].lab*S, y:(ROW_TOP[o.row] + 103)*S, rotation:Math.PI/2, silent:true,
  style:txt({text:o.text, fontSize:14.5, align:'center', verticalAlign:'middle'})}));

// column headers
gfx.push({type:'text', x:768*S, y:28*S, silent:true, style:txt({text:'gl5', fontSize:14.5, align:'center', verticalAlign:'middle'})});
gfx.push({type:'text', x:2239*S, y:28*S, silent:true, style:txt({text:'ss2', fontSize:14.5, align:'center', verticalAlign:'middle'})});
gfx.push({type:'text', x:768*S, y:7775*S, silent:true, style:txt({text:'gl5', fontSize:14.5, align:'center', verticalAlign:'middle'})});
// separator between 4-core and 8-core rows
gfx.push({type:'line', silent:true, shape:{x1:40*S, y1:3609*S, x2:2968*S, y2:3609*S}, style:{stroke:'#000', lineWidth:1}});

const chart = echarts.init(document.getElementById('c'), null, {renderer:'canvas'});
chart.setOption({
  animation:false,
  backgroundColor:'#fff',
  grid:grids, xAxis:xAxes, yAxis:yAxes, series:series, legend:legends,
  graphic:{elements:gfx}
});
</script>
</body></html>
